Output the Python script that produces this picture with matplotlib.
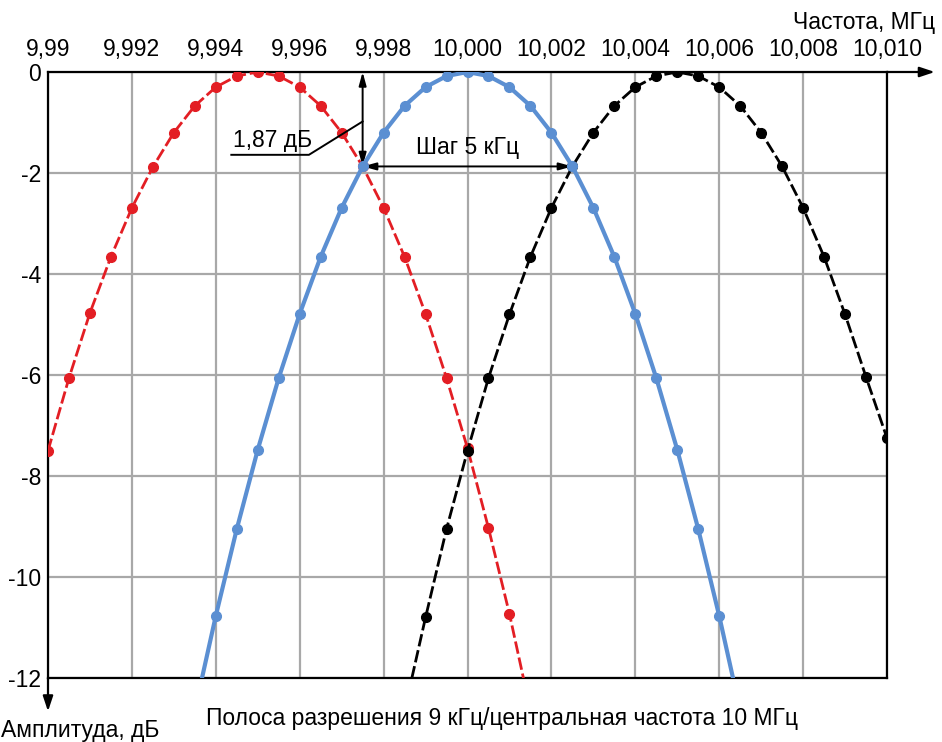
import matplotlib.pyplot as plt

plt.rcParams['font.family'] = ['Liberation Sans', 'DejaVu Sans']

# frequency offsets from each curve centre, kHz
offs_blue = [-6.5, -6.0, -5.5, -5.0, -4.5, -4.0, -3.5, -3.0, -2.5, -2.0, -1.5, -1.0, -0.5,
             0.0, 0.5, 1.0, 1.5, 2.0, 2.5, 3.0, 3.5, 4.0, 4.5, 5.0, 5.5, 6.0, 6.5]
offs_red = [-5.0, -4.5, -4.0, -3.5, -3.0, -2.5, -2.0, -1.5, -1.0, -0.5,
            0.0, 0.5, 1.0, 1.5, 2.0, 2.5, 3.0, 3.5, 4.0, 4.5, 5.0, 5.5, 6.0, 6.5]
offs_black = [-6.5, -6.0, -5.5, -5.0, -4.5, -4.0, -3.5, -3.0, -2.5, -2.0, -1.5, -1.0, -0.5,
              0.0, 0.5, 1.0, 1.5, 2.0, 2.5, 3.0, 3.5, 4.0, 4.5, 5.0]

# centre frequencies, MHz
f_red, f_blue, f_black = 9.995, 10.000, 10.005

# levels, dB
lvl_blue = [-12.64, -10.77, -9.05, -7.48, -6.06, -4.79, -3.66, -2.69, -1.87, -1.20, -0.67, -0.30, -0.08,
            0.0, -0.08, -0.30, -0.67, -1.20, -1.87, -2.69, -3.66, -4.79, -6.06, -7.48, -9.05, -10.77, -12.64]
lvl_red = [-7.50, -6.06, -4.77, -3.66, -2.69, -1.88, -1.20, -0.67, -0.30, -0.08,
           0.0, -0.08, -0.30, -0.67, -1.20, -1.87, -2.69, -3.66, -4.79, -6.06, -7.45, -9.03, -10.73, -12.64]
lvl_black = [-12.64, -10.80, -9.05, -7.50, -6.06, -4.80, -3.66, -2.69, -1.87, -1.20, -0.67, -0.30, -0.08,
             0.0, -0.08, -0.30, -0.67, -1.20, -1.87, -2.69, -3.66, -4.80, -6.04, -7.25]

xticks = [9.990, 9.992, 9.994, 9.996, 9.998, 10.000, 10.002, 10.004, 10.006, 10.008, 10.010]
xlabels = ['9,99', '9,992', '9,994', '9,996', '9,998', '10,000', '10,002', '10,004', '10,006', '10,008', '10,010']
yticks = [0, -2, -4, -6, -8, -10, -12]

RED = '#e31e24'
BLUE = '#5b8fd2'
FS = 16.5

fig = plt.figure(figsize=(9.42, 7.42), dpi=100)
ax = fig.add_axes([48 / 942, 1 - 678 / 742, 839 / 942, 606 / 742])

ax.plot([f_red + o * 1e-3 for o in offs_red], lvl_red, color=RED, lw=2.0,
        dashes=(4.5, 1.4), marker='o', ms=7, zorder=3)
ax.plot([f_black + o * 1e-3 for o in offs_black], lvl_black, color='black', lw=2.0,
        dashes=(4.5, 1.4), marker='o', ms=7, zorder=3)
ax.plot([f_blue + o * 1e-3 for o in offs_blue], lvl_blue, color=BLUE, lw=3.0,
        marker='o', ms=7, zorder=4)

ax.set_xlim(9.990, 10.010)
ax.set_ylim(-12, 0)
ax.set_xticks(xticks)
ax.set_xticklabels(xlabels)
ax.set_yticks(yticks)
ax.set_yticklabels([str(v) for v in yticks])
ax.xaxis.tick_top()
ax.tick_params(length=0, labelsize=FS)
ax.tick_params(axis='x', pad=8)
ax.tick_params(axis='y', pad=5)
ax.grid(True, color='#a8a8a8', lw=1.6)
ax.set_axisbelow(True)
for s in ax.spines.values():
    s.set_color('black')
    s.set_linewidth(1.6)

# axis arrows
ax.annotate('', xy=(1.057, 1), xytext=(1, 1), xycoords='axes fraction',
            arrowprops=dict(arrowstyle='-|>,head_length=0.9,head_width=0.3', color='black',
                            lw=1.6, shrinkA=0, shrinkB=0), annotation_clip=False)
ax.annotate('', xy=(0, -0.055), xytext=(0, 0), xycoords='axes fraction',
            arrowprops=dict(arrowstyle='-|>,head_length=0.9,head_width=0.3', color='black',
                            lw=1.6, shrinkA=0, shrinkB=0), annotation_clip=False)

# 1,87 dB marker
ax.annotate('', xy=(9.9975, 0), xytext=(9.9975, -1.87),
            arrowprops=dict(arrowstyle='<|-|>,head_length=0.8,head_width=0.22', color='black',
                            lw=1.4, shrinkA=0, shrinkB=0))
ax.plot([9.9975, 9.99622, 9.99437], [-0.98, -1.64, -1.64], color='black', lw=1.4, zorder=5)
ax.text(9.99441, -1.58, '1,87 дБ', fontsize=FS, ha='left', va='bottom')

# step marker
ax.annotate('', xy=(9.9975, -1.87), xytext=(10.0025, -1.87),
            arrowprops=dict(arrowstyle='<|-|>,head_length=0.8,head_width=0.22', color='black',
                            lw=1.4, shrinkA=0, shrinkB=0))
ax.text(10.0, -1.72, 'Шаг 5 кГц', fontsize=FS, ha='center', va='bottom')

fig.text(935 / 942, 1 - 22 / 742, 'Частота, МГц', fontsize=FS, ha='right', va='center')
fig.text(1 / 942, 1 - 731 / 742, 'Амплитуда, дБ', fontsize=FS, ha='left', va='center')
fig.text(502 / 942, 1 - 718 / 742, 'Полоса разрешения 9 кГц/центральная частота 10 МГц',
         fontsize=FS, ha='center', va='center')

fig.savefig('out.png', dpi=100)
